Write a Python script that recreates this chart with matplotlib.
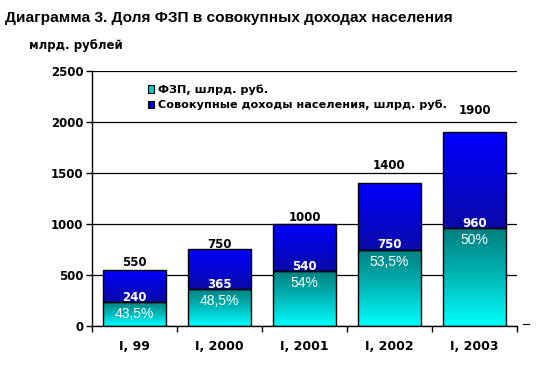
import numpy as np
import matplotlib
matplotlib.use("Agg")
import matplotlib.pyplot as plt
from matplotlib.colors import LinearSegmentedColormap
from matplotlib.lines import Line2D
from matplotlib.patches import Patch

categories = ["I, 99", "I, 2000", "I, 2001", "I, 2002", "I, 2003"]
totals = [550, 750, 1000, 1400, 1900]
fzp = [240, 365, 540, 750, 960]
shares = ["43,5%", "48,5%", "54%", "53,5%", "50%"]

# layout: pixel gap between bar top and total label baseline
total_label_gap_px = [4, 2, 3, 14, 18]

plt.rcParams['font.family'] = ['DejaVu Sans']

fig = plt.figure(figsize=(5.43, 3.69), dpi=100)
ax = fig.add_axes([92/543, 1-326/369, 425/543, 255/369])

x = np.arange(len(categories))
w = 0.73

blue_cmap = LinearSegmentedColormap.from_list("b", ["#0A0AA8", "#0000FF"])
cyan_cmap = LinearSegmentedColormap.from_list("c", ["#00FFFF", "#00B8B8", "#007E7E"])
grad = np.linspace(0, 1, 256).reshape(-1, 1)

bars_tot = ax.bar(x, np.array(totals) - np.array(fzp), w, bottom=fzp,
                  facecolor="none", edgecolor="black", linewidth=1, zorder=3)
bars_fzp = ax.bar(x, fzp, w, facecolor="none", edgecolor="black", linewidth=1, zorder=3)

for i in range(len(x)):
    x0 = x[i] - w/2
    x1 = x[i] + w/2
    im = ax.imshow(grad, cmap=blue_cmap, aspect="auto", origin="lower",
                   extent=[x0, x1, fzp[i], totals[i]], zorder=2, interpolation="bilinear")
    im.set_clip_path(bars_tot[i])
    im2 = ax.imshow(grad, cmap=cyan_cmap, aspect="auto", origin="lower",
                    extent=[x0, x1, 0, fzp[i]], zorder=2, interpolation="bilinear")
    im2.set_clip_path(bars_fzp[i])

px2pt = 0.72
for i in range(len(x)):
    ax.annotate(str(totals[i]), (x[i], totals[i]),
                xytext=(0, total_label_gap_px[i] * px2pt), textcoords="offset points",
                ha="center", va="baseline", fontsize=8.5, fontweight="bold",
                color="black", zorder=5)
    ax.annotate(str(fzp[i]), (x[i], fzp[i]),
                xytext=(0, 1 * px2pt), textcoords="offset points",
                ha="center", va="baseline", fontsize=8.5, fontweight="bold",
                color="white", zorder=5)
    ax.annotate(shares[i], (x[i], fzp[i]),
                xytext=(0, -16 * px2pt), textcoords="offset points",
                ha="center", va="baseline", fontsize=10, color="white", zorder=5,
                family=['Liberation Sans Narrow', 'Liberation Sans', 'DejaVu Sans'])

ax.set_xlim(-0.5, len(x) - 0.5)
ax.set_ylim(0, 2500)
ax.set_yticks(np.arange(0, 2501, 500))
ax.set_yticklabels([str(v) for v in range(0, 2501, 500)], fontweight="bold", fontsize=8.5)
ax.yaxis.grid(True, color="black", linewidth=0.9, zorder=0)
ax.set_axisbelow(True)

ax.set_xticks(x)
ax.set_xticklabels(categories, fontweight="bold", fontsize=9)
ax.set_xticks(np.arange(-0.5, len(x), 1), minor=True)
ax.tick_params(axis="x", which="major", length=0, pad=10)
ax.tick_params(axis="x", which="minor", length=4, width=1, direction="out")
ax.tick_params(axis="y", length=4, width=1, direction="out", pad=2)

for s in ["top", "right"]:
    ax.spines[s].set_visible(False)
ax.spines["left"].set_linewidth(1)
ax.spines["bottom"].set_linewidth(1)

handles = [Patch(facecolor="#00D0D0", edgecolor="black", linewidth=0.8),
           Patch(facecolor="#0000E0", edgecolor="black", linewidth=0.8)]
ax.legend(handles, ["ФЗП, шлрд. руб.", "Совокупные доходы населения, шлрд. руб."],
          loc="upper left", bbox_to_anchor=(0.12, 0.965), frameon=False,
          prop={"weight": "bold", "size": 8.1}, handlelength=0.6, handleheight=0.6,
          handletextpad=0.3, labelspacing=0.45, borderaxespad=0)

fig.text(5/543, 1-18/369, "Диаграмма 3. Доля ФЗП в совокупных доходах населения",
         fontsize=11.1, ha="left", va="center", fontweight="bold",
         family=['Liberation Sans', 'DejaVu Sans'])
fig.text(29/543, 1-45/369, "млрд. рублей", fontsize=8.5, ha="left", va="center",
         fontweight="bold")

fig.add_artist(Line2D([523/543, 529/543], [1-324/369, 1-324/369], color="black",
                      linewidth=0.8))

fig.savefig("out.png", dpi=100)
